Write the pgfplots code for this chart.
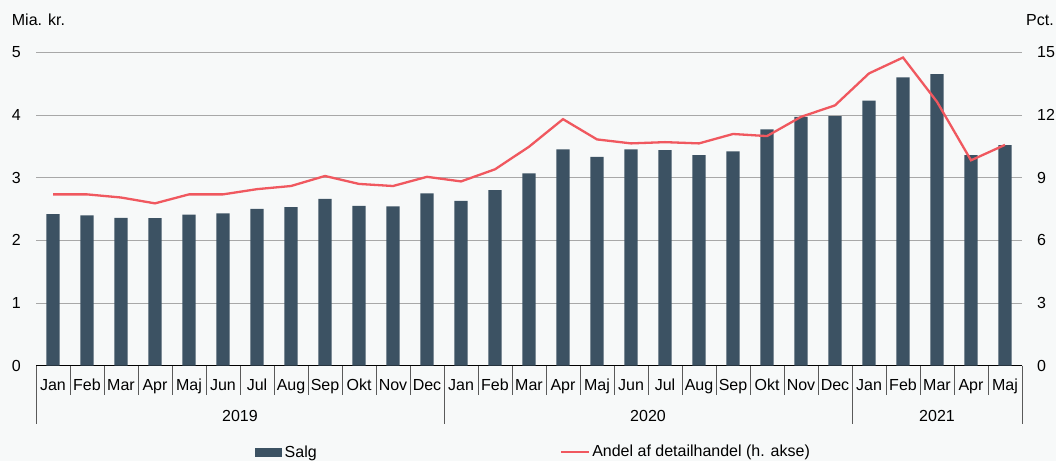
\documentclass[border=0pt]{standalone}
\usepackage{pgfplots}
\pgfplotsset{compat=1.18}
\usepackage{fontspec}
\setmainfont{Liberation Sans}
\definecolor{bgcol}{HTML}{F7F9F9}
\definecolor{barcol}{HTML}{3C5263}
\definecolor{linecol}{HTML}{F0585F}
\definecolor{gridgrey}{HTML}{A8A8A8}
\definecolor{sepgrey}{HTML}{5A5A5A}
\begin{document}
\begin{tikzpicture}[font=\fontsize{16bp}{19bp}\selectfont]
\fill[bgcol] (-36bp,-95.3bp) rectangle (1020bp,365.7bp);
\path[use as bounding box] (-36bp,-95.3bp) rectangle (1020bp,365.7bp);
\node[anchor=base west, inner sep=0pt] at (-24.3bp,340bp) {Mia. kr.};
\node[anchor=base west, inner sep=0pt] at (990bp,340bp) {Pct.};
\begin{axis}[
  scale only axis, width=986bp, height=313.4bp,
  at={(0,0)}, anchor=south west,
  xmin=-0.5, xmax=28.5, ymin=0, ymax=5,
  ytick={0,1,2,3,4,5},
  xtick={0,...,28},
  xticklabels={Jan,Feb,Mar,Apr,Maj,Jun,Jul,Aug,Sep,Okt,Nov,Dec,Jan,Feb,Mar,Apr,Maj,Jun,Jul,Aug,Sep,Okt,Nov,Dec,Jan,Feb,Mar,Apr,Maj},
  /pgf/number format/assume math mode=true,
  axis x line*=bottom, axis y line*=left,
  x axis line style={-, draw=black, line width=1bp},
  y axis line style={draw=none},
  major tick length=0pt,
  ytick style={draw=none}, xtick style={draw=none},
  xticklabel style={anchor=base, inner sep=0pt, yshift=-25bp},
  yticklabel style={anchor=east, inner sep=0pt, xshift=-15bp},
  ymajorgrids, major grid style={draw=gridgrey, line width=0.9bp},
  clip=false,
  legend style={at={(axis description cs:0.2221,-0.277)}, anchor=west,
     draw=none, fill=none, inner sep=0pt, outer sep=0pt,
     nodes={inner sep=0pt}, column sep=3bp},
  legend image code/.code={\fill[barcol] (0bp,-4.2bp) rectangle (26.7bp,4.2bp);},
]
\addplot[ybar, bar width=13.3bp, fill=barcol, draw=none] coordinates {
(0,2.42) (1,2.40) (2,2.36) (3,2.355) (4,2.41) (5,2.43) (6,2.50) (7,2.53) (8,2.66) (9,2.55) (10,2.54) (11,2.75)
(12,2.63) (13,2.80) (14,3.07) (15,3.45) (16,3.33) (17,3.45) (18,3.44) (19,3.36) (20,3.42) (21,3.77) (22,3.97) (23,3.98)
(24,4.23) (25,4.60) (26,4.65) (27,3.36) (28,3.52)};
\addlegendentry{Salg}
\pgfplotsinvokeforeach{0,...,29}{
  \draw[sepgrey, line width=1bp] (axis cs:#1-0.5,0) -- ++(0pt,-29.3bp);
}
\draw[sepgrey, line width=1bp] (axis cs:-0.5,0) -- ++(0pt,-58.3bp);
\draw[sepgrey, line width=1bp] (axis cs:11.5,0) -- ++(0pt,-58.3bp);
\draw[sepgrey, line width=1bp] (axis cs:23.5,0) -- ++(0pt,-58.3bp);
\draw[sepgrey, line width=1bp] (axis cs:28.5,0) -- ++(0pt,-58.3bp);
\node[anchor=base, inner sep=0pt, yshift=-56bp] at (axis cs:5.5,0) {2019};
\node[anchor=base, inner sep=0pt, yshift=-56bp] at (axis cs:17.5,0) {2020};
\node[anchor=base, inner sep=0pt, yshift=-56bp] at (axis cs:26,0) {2021};
\end{axis}
\begin{axis}[
  scale only axis, width=986bp, height=313.4bp,
  at={(0,0)}, anchor=south west,
  xmin=-0.5, xmax=28.5, ymin=0, ymax=15,
  ytick={0,3,6,9,12,15},
  /pgf/number format/assume math mode=true,
  axis x line=none, axis y line*=right,
  y axis line style={draw=none},
  major tick length=0pt, ytick style={draw=none},
  yticklabel style={anchor=west, inner sep=0pt, xshift=15bp},
  clip=false,
  legend style={at={(axis description cs:0.5314,-0.2744)}, anchor=west,
     draw=none, fill=none, inner sep=0pt, outer sep=0pt,
     nodes={inner sep=0pt}, column sep=2bp},
  legend image code/.code={\draw[linecol, line width=2.3bp] (0bp,0bp) -- (28bp,0bp);},
]
\addplot[linecol, line width=2.3bp, mark=none] coordinates {
(0,8.2) (1,8.2) (2,8.05) (3,7.77) (4,8.2) (5,8.2) (6,8.45) (7,8.6) (8,9.08) (9,8.7) (10,8.6) (11,9.04)
(12,8.82) (13,9.4) (14,10.48) (15,11.8) (16,10.83) (17,10.64) (18,10.7) (19,10.64) (20,11.09) (21,10.99) (22,11.91) (23,12.46)
(24,13.99) (25,14.75) (26,12.63) (27,9.83) (28,10.57)};
\addlegendentry{Andel af detailhandel (h. akse)}
\end{axis}
\end{tikzpicture}
\end{document}
